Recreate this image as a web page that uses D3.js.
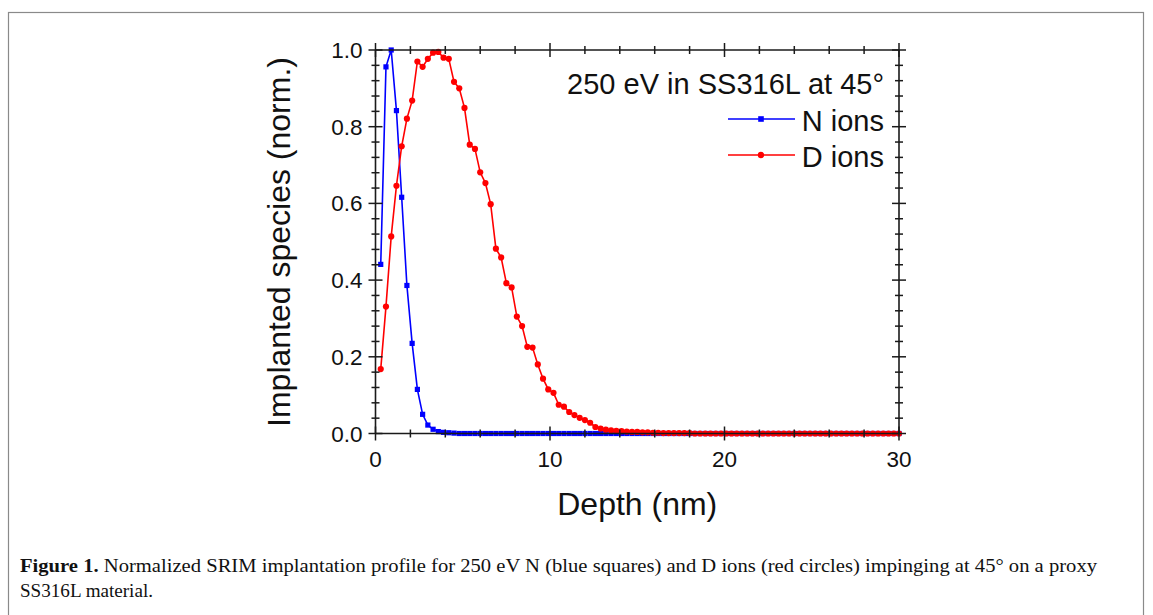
<!DOCTYPE html>
<html>
<head>
<meta charset="utf-8">
<script src="https://cdn.jsdelivr.net/npm/d3@7/dist/d3.min.js"></script>
<style>
  html, body { margin: 0; padding: 0; background: #fff; }
  svg { display: block; }
</style>
</head>
<body>
<svg id="chart" width="1153" height="615"></svg>
<script>
// ---- data ----
const depthNm = [
  0.3, 0.6, 0.9, 1.2, 1.5, 1.8, 2.1, 2.4, 2.7, 3.0,
  3.3, 3.6, 3.9, 4.2, 4.5, 4.8, 5.1, 5.4, 5.7, 6.0,
  6.3, 6.6, 6.9, 7.2, 7.5, 7.8, 8.1, 8.4, 8.7, 9.0,
  9.3, 9.6, 9.9, 10.2, 10.5, 10.8, 11.1, 11.4, 11.7, 12.0,
  12.3, 12.6, 12.9, 13.2, 13.5, 13.8, 14.1, 14.4, 14.7, 15.0,
  15.3, 15.6, 15.9, 16.2, 16.5, 16.8, 17.1, 17.4, 17.7, 18.0,
  18.3, 18.6, 18.9, 19.2, 19.5, 19.8, 20.1, 20.4, 20.7, 21.0,
  21.3, 21.6, 21.9, 22.2, 22.5, 22.8, 23.1, 23.4, 23.7, 24.0,
  24.3, 24.6, 24.9, 25.2, 25.5, 25.8, 26.1, 26.4, 26.7, 27.0,
  27.3, 27.6, 27.9, 28.2, 28.5, 28.8, 29.1, 29.4, 29.7, 30.0
];
const nIons = [
  0.441, 0.956, 1.000, 0.842, 0.616, 0.386, 0.235, 0.115, 0.050, 0.022,
  0.011, 0.005, 0.003, 0.002, 0.001, 0, 0, 0, 0, 0,
  0, 0, 0, 0, 0, 0, 0, 0, 0, 0,
  0, 0, 0, 0, 0, 0, 0, 0, 0, 0,
  0, 0, 0, 0, 0, 0, 0, 0, 0, 0,
  0, 0, 0, 0, 0, 0, 0, 0, 0, 0,
  0, 0, 0, 0, 0, 0, 0, 0, 0, 0,
  0, 0, 0, 0, 0, 0, 0, 0, 0, 0,
  0, 0, 0, 0, 0, 0, 0, 0, 0, 0,
  0, 0, 0, 0, 0, 0, 0, 0, 0, 0
];
const dIons = [
  0.168, 0.331, 0.514, 0.646, 0.749, 0.821, 0.868, 0.970, 0.956, 0.977,
  0.993, 0.995, 0.980, 0.977, 0.917, 0.900, 0.849, 0.753, 0.742, 0.681,
  0.653, 0.598, 0.482, 0.459, 0.392, 0.381, 0.305, 0.280, 0.226, 0.224,
  0.180, 0.143, 0.115, 0.106, 0.075, 0.070, 0.056, 0.048, 0.041, 0.035,
  0.028, 0.017, 0.013, 0.010, 0.008, 0.007, 0.006, 0.005, 0.004, 0.004,
  0.003, 0.003, 0.002, 0.002, 0.001, 0.001, 0.001, 0.001, 0.001, 0.001,
  0, 0, 0, 0, 0, 0, 0, 0, 0, 0,
  0, 0, 0, 0, 0, 0, 0, 0, 0, 0,
  0, 0, 0, 0, 0, 0, 0, 0, 0, 0,
  0, 0, 0, 0, 0, 0, 0, 0, 0, 0
];
const xTicks = [0, 10, 20, 30];
const xMinorTicks = [2, 4, 6, 8, 12, 14, 16, 18, 22, 24, 26, 28];
const yTicks = [0.0, 0.2, 0.4, 0.6, 0.8, 1.0];
const yMinorTicks = [0.04, 0.08, 0.12, 0.16, 0.24, 0.28, 0.32, 0.36, 0.44, 0.48, 0.52, 0.56,
                     0.64, 0.68, 0.72, 0.76, 0.84, 0.88, 0.92, 0.96];
const legendTitle = "250 eV in SS316L at 45°";
const seriesNames = ["N ions", "D ions"];
const xTitle = "Depth (nm)";
const yTitle = "Implanted species (norm.)";
const captionBold = "Figure 1.";
const captionLine1 = " Normalized SRIM implantation profile for 250 eV N (blue squares) and D ions (red circles) impinging at 45° on a proxy";
const captionLine2 = "SS316L material.";

// ---- drawing ----
const svg = d3.select("#chart");
const sans = "'Liberation Sans', Arial, Helvetica, sans-serif";
const serif = "'Liberation Serif', 'Times New Roman', serif";
const axisColor = "#1a1a1a";

// figure frame
svg.append("rect").attr("x", 8.5).attr("y", 12.5).attr("width", 1135).attr("height", 640)
  .attr("fill", "none").attr("stroke", "#8a8a8a").attr("stroke-width", 1.2);

const L = 375.5, R = 899, T = 50, B = 433.5;
const x = d3.scaleLinear().domain([0, 30]).range([L, R]);
const y = d3.scaleLinear().domain([0, 1]).range([B, T]);

// axes with crossing ticks (custom, via scales)
function tickAxis(g, orient, scale, major, minor, labels) {
  const MJ = 7, MN = 4;
  const isX = orient === "bottom" || orient === "top";
  const pos = orient === "bottom" ? B : orient === "top" ? T : orient === "left" ? L : R;
  g.append("line")
    .attr("x1", isX ? L : pos).attr("x2", isX ? R : pos)
    .attr("y1", isX ? pos : T).attr("y2", isX ? pos : B)
    .attr("stroke", axisColor).attr("stroke-width", 1.6);
  const all = major.map(v => ({v, len: MJ})).concat(minor.map(v => ({v, len: MN})));
  g.selectAll("line.t").data(all).enter().append("line").attr("class", "t")
    .attr("x1", d => isX ? scale(d.v) : pos - d.len)
    .attr("x2", d => isX ? scale(d.v) : pos + d.len)
    .attr("y1", d => isX ? pos - d.len : scale(d.v))
    .attr("y2", d => isX ? pos + d.len : scale(d.v))
    .attr("stroke", axisColor).attr("stroke-width", 1.5);
  if (labels) {
    if (orient === "bottom") {
      g.selectAll("text.l").data(major).enter().append("text").attr("class", "l")
        .attr("x", d => scale(d)).attr("y", pos + 33)
        .attr("text-anchor", "middle").attr("font-family", sans).attr("font-size", 22.5)
        .attr("fill", "#111").text(d => d3.format("d")(d));
    } else {
      g.selectAll("text.l").data(major).enter().append("text").attr("class", "l")
        .attr("x", pos - 13).attr("y", d => scale(d) + 8)
        .attr("text-anchor", "end").attr("font-family", sans).attr("font-size", 22.5)
        .attr("fill", "#111").text(d => d3.format(".1f")(d));
    }
  }
}

// series
const nData = depthNm.map((d, i) => [d, nIons[i]]);
const dData = depthNm.map((d, i) => [d, dIons[i]]);
const line = d3.line().x(d => x(d[0])).y(d => y(d[1]));

const gN = svg.append("g");
gN.append("path").datum(nData).attr("d", line).attr("fill", "none")
  .attr("stroke", "#0000ff").attr("stroke-width", 1.6);
gN.selectAll("rect").data(nData).enter().append("rect")
  .attr("x", d => x(d[0]) - 2.6).attr("y", d => y(d[1]) - 2.6)
  .attr("width", 5.2).attr("height", 5.2).attr("fill", "#0000ff");

const gD = svg.append("g");
gD.append("path").datum(dData).attr("d", line).attr("fill", "none")
  .attr("stroke", "#ff0000").attr("stroke-width", 1.6);
gD.selectAll("circle").data(dData).enter().append("circle")
  .attr("cx", d => x(d[0])).attr("cy", d => y(d[1])).attr("r", 3.1).attr("fill", "#ff0000");

// axes on top
tickAxis(svg.append("g"), "bottom", x, xTicks, xMinorTicks, true);
tickAxis(svg.append("g"), "top", x, xTicks, xMinorTicks, false);
tickAxis(svg.append("g"), "left", y, yTicks, yMinorTicks, true);
tickAxis(svg.append("g"), "right", y, yTicks, yMinorTicks, false);

// axis titles
svg.append("text").attr("x", (L + R) / 2 + 0).attr("y", 515)
  .attr("text-anchor", "middle").attr("font-family", sans).attr("font-size", 32)
  .attr("fill", "#111").text(xTitle);
svg.append("text").attr("transform", "translate(290,242) rotate(-90)")
  .attr("text-anchor", "middle").attr("font-family", sans).attr("font-size", 32)
  .attr("fill", "#111").text(yTitle);

// legend
const legX = 884;
svg.append("text").attr("x", legX).attr("y", 94).attr("text-anchor", "end")
  .attr("font-family", sans).attr("font-size", 29).attr("fill", "#111").text(legendTitle);
const legRows = [
  {name: seriesNames[0], color: "#0000ff", shape: "square", yl: 119, yt: 130.5},
  {name: seriesNames[1], color: "#ff0000", shape: "circle", yl: 155, yt: 166.5}
];
legRows.forEach(r => {
  svg.append("line").attr("x1", 728).attr("x2", 795).attr("y1", r.yl).attr("y2", r.yl)
    .attr("stroke", r.color).attr("stroke-width", 1.6);
  if (r.shape === "square") {
    svg.append("rect").attr("x", 761 - 2.8).attr("y", r.yl - 2.8).attr("width", 5.6).attr("height", 5.6)
      .attr("fill", r.color);
  } else {
    svg.append("circle").attr("cx", 761).attr("cy", r.yl).attr("r", 3.2).attr("fill", r.color);
  }
  svg.append("text").attr("x", legX).attr("y", r.yt).attr("text-anchor", "end")
    .attr("font-family", sans).attr("font-size", 29).attr("fill", "#111").text(r.name);
});

// caption
const cap1 = svg.append("text").attr("x", 20).attr("y", 572)
  .attr("font-family", serif).attr("font-size", 18).attr("fill", "#111");
cap1.append("tspan").attr("font-weight", "bold").text(captionBold);
cap1.append("tspan").text(captionLine1);
cap1.attr("textLength", 1077).attr("lengthAdjust", "spacingAndGlyphs");
svg.append("text").attr("x", 20).attr("y", 597)
  .attr("font-family", serif).attr("font-size", 18).attr("fill", "#111")
  .attr("textLength", 133).attr("lengthAdjust", "spacingAndGlyphs")
  .text(captionLine2);
</script>
</body>
</html>
